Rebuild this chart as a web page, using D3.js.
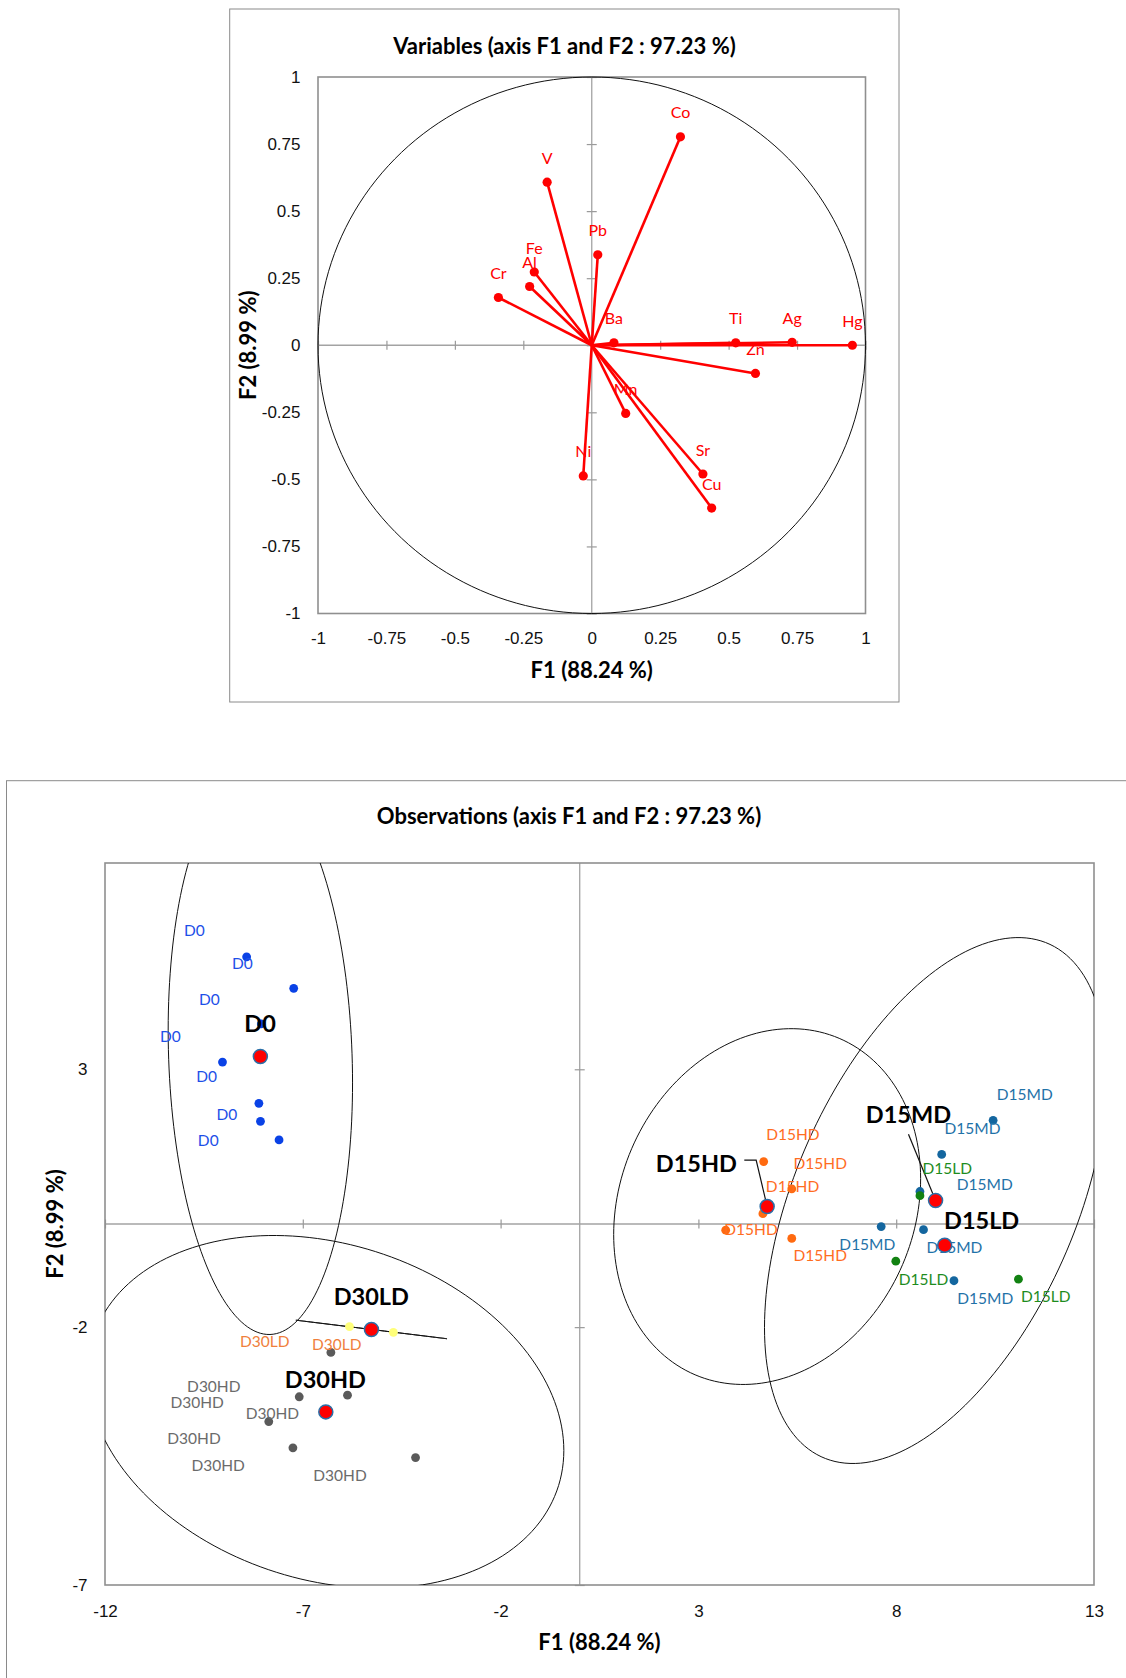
<!DOCTYPE html>
<html>
<head>
<meta charset="utf-8">
<script src="https://cdn.jsdelivr.net/npm/d3@7"></script>
<style>
  body { margin: 0; background: #fff; }
  svg { display: block; font-family: Lato, 'Open Sans', sans-serif; }
  .tick line { stroke: #9a9a9a; stroke-width: 1.2; }
  .tick text { fill: #111; font-size: 17px; }
</style>
</head>
<body>
<svg id="chart" width="1126" height="1678"></svg>
<script>
// ---- variables (correlation circle)
const varNames = ['Co', 'V', 'Pb', 'Fe', 'Al', 'Cr', 'Ba', 'Ti', 'Ag', 'Hg', 'Zn', 'Mn', 'Ni', 'Sr', 'Cu'];
const varF1 = [0.324, -0.163, 0.022, -0.210, -0.227, -0.341, 0.081, 0.526, 0.732, 0.952, 0.598, 0.124, -0.031, 0.406, 0.438];
const varF2 = [0.777, 0.608, 0.337, 0.273, 0.219, 0.178, 0.009, 0.009, 0.011, 0.000, -0.105, -0.254, -0.487, -0.480, -0.607];
const varTicks = [-1, -0.75, -0.5, -0.25, 0, 0.25, 0.5, 0.75, 1];

// ---- observations
const obsGroup = ['D0', 'D0', 'D0', 'D0', 'D0', 'D0', 'D0',
  'D15HD', 'D15HD', 'D15HD', 'D15HD', 'D15HD',
  'D15MD', 'D15MD', 'D15MD', 'D15MD', 'D15MD', 'D15MD',
  'D15LD', 'D15LD', 'D15LD',
  'D30HD', 'D30HD', 'D30HD', 'D30HD', 'D30HD', 'D30HD',
  'D30LD', 'D30LD'];
const obsF1 = [-8.42, -7.23, -9.03, -8.11, -8.07, -7.60, -8.05,
  4.65, 5.36, 4.63, 3.69, 5.36,
  10.45, 9.15, 8.60, 7.62, 8.69, 9.46,
  8.60, 7.99, 11.09,
  -6.29, -7.09, -5.87, -7.86, -7.25, -4.15,
  -5.82, -4.71];
const obsF2 = [5.18, 4.57, 3.14, 2.34, 1.99, 1.63, 3.88,
  1.21, 0.68, 0.20, -0.12, -0.28,
  2.01, 1.35, 0.63, -0.05, -0.11, -1.10,
  0.55, -0.72, -1.07,
  -2.49, -3.35, -3.32, -3.83, -4.34, -4.53,
  -1.99, -2.10];
// where each observation's text label sits (F1, F2)
const obsLabelF1 = [-9.74, -8.53, -9.36, -10.35, -9.43, -8.92, -9.39,
  5.39, 6.08, 5.38, 4.33, 6.08,
  11.25, 9.93, 10.24, 7.27, 9.47, 10.25,
  9.29, 8.69, 11.78,
  -9.25, -9.67, -7.77, -9.75, -9.14, -6.06,
  -7.96, -6.14];
const obsLabelF2 = [5.71, 5.07, 4.37, 3.65, 2.87, 2.13, 1.63,
  1.74, 1.19, 0.73, -0.10, -0.61,
  2.53, 1.87, 0.77, -0.39, -0.44, -1.44,
  1.08, -1.06, -1.39,
  -3.15, -3.46, -3.66, -4.15, -4.67, -4.86,
  -2.27, -2.33];

const groupNames = ['D0', 'D15HD', 'D15MD', 'D15LD', 'D30HD', 'D30LD'];
const groupPointColors = ['#0a42e6', '#ff6a10', '#14669f', '#128212', '#5a5a5a', '#ffff7a'];
const groupLabelColors = ['#1d4fe8', '#ff6d1f', '#1f72a8', '#1e8c1e', '#6b6b6b', '#f07f3c'];
// bold group name position (F1, F2)
const groupLabelF1 = [-8.08, 2.95, 8.31, 10.16, -6.43, -5.27];
const groupLabelF2 = [3.89, 1.19, 2.14, 0.08, -3.0, -1.39];
// confidence ellipses: variance / covariance terms
const ellipseGroups = ['D0', 'D15HD', 'D15MD', 'D30HD', 'D30LD'];
const ellipseSxx = [5.43, 15.05, 18.7, 36.2, 3.65];
const ellipseSyy = [29.05, 11.9, 26.0, 11.7, 0.0324];
const ellipseSxy = [-1.19, 2.1, 10.66, -4.5, -0.344];
// leader lines from bold names to their centroid
const leaderGroups = ['D15HD', 'D15MD'];
const leaderF1 = [[4.16, 4.46], [8.31]];
const leaderF2 = [[1.24, 1.24], [1.74]];

const obsXTicks = [-12, -7, -2, 3, 8, 13];
const obsYTicks = [-7, -2, 3];

const titleSize = 22;
const svg = d3.select('#chart');

function ellipsePath(cx, cy, sxx, syy, sxy, xScale, yScale) {
  const l11 = Math.sqrt(sxx);
  const l21 = sxy / l11;
  const l22 = Math.sqrt(Math.max(0, syy - l21 * l21));
  const pts = d3.range(0, 361, 2).map((deg) => {
    const t = deg * Math.PI / 180;
    return [cx + l11 * Math.cos(t), cy + l21 * Math.cos(t) + l22 * Math.sin(t)];
  });
  return d3.line()
    .x((d) => xScale(d[0]))
    .y((d) => yScale(d[1]))(pts);
}

function drawFrame(g, x, y, xTicks, yTicks, pad) {
  const [x0, x1] = x.range();
  const [y0, y1] = y.range();

  // zero lines with cross ticks
  g.append('line')
    .attr('x1', x0).attr('x2', x1)
    .attr('y1', y(0)).attr('y2', y(0))
    .attr('stroke', '#a3a3a3').attr('stroke-width', 1.3);
  g.append('line')
    .attr('x1', x(0)).attr('x2', x(0))
    .attr('y1', y0).attr('y2', y1)
    .attr('stroke', '#a3a3a3').attr('stroke-width', 1.3);

  [d3.axisTop(x), d3.axisBottom(x)].forEach((ax) => {
    g.append('g')
      .attr('transform', 'translate(0,' + y(0) + ')')
      .call(ax.tickValues(xTicks).tickSize(4.5).tickFormat(''))
      .call((s) => s.select('.domain').remove());
  });
  [d3.axisLeft(y), d3.axisRight(y)].forEach((ax) => {
    g.append('g')
      .attr('transform', 'translate(' + x(0) + ',0)')
      .call(ax.tickValues(yTicks).tickSize(5).tickFormat(''))
      .call((s) => s.select('.domain').remove());
  });

  // tick labels
  g.append('g')
    .attr('transform', 'translate(0,' + y0 + ')')
    .call(d3.axisBottom(x).tickValues(xTicks).tickSize(0).tickPadding(pad.x).tickFormat((d) => String(d)))
    .call((s) => s.select('.domain').remove());
  g.append('g')
    .attr('transform', 'translate(' + x0 + ',0)')
    .call(d3.axisLeft(y).tickValues(yTicks).tickSize(0).tickPadding(pad.y).tickFormat((d) => String(d)))
    .call((s) => s.select('.domain').remove());

  g.selectAll('.tick text').attr('font-family', null).attr('font-size', null);

  g.append('rect')
    .attr('x', x0).attr('y', y1)
    .attr('width', x1 - x0).attr('height', y0 - y1)
    .attr('fill', 'none')
    .attr('stroke', '#8f8f8f').attr('stroke-width', 1.6);
}

// ================= Variables chart =================
const xVar = d3.scaleLinear().domain([-1, 1]).range([318, 865.5]);
const yVar = d3.scaleLinear().domain([-1, 1]).range([613.5, 77]);

svg.append('rect')
  .attr('x', 229.7).attr('y', 9)
  .attr('width', 669.3).attr('height', 693)
  .attr('fill', 'none').attr('stroke', '#8a8a8a').attr('stroke-width', 1);

svg.append('text')
  .attr('x', 564.5).attr('y', 45.3)
  .attr('text-anchor', 'middle').attr('dominant-baseline', 'central')
  .attr('font-weight', 'bold').attr('font-size', titleSize)
  .text('Variables (axis F1 and F2 : 97.23 %)');

const varFrame = svg.append('g').attr('class', 'var-frame');
drawFrame(varFrame, xVar, yVar, varTicks, varTicks, { x: 18.5, y: 17.5 });

svg.append('path')
  .attr('d', ellipsePath(0, 0, 1, 1, 0, xVar, yVar))
  .attr('fill', 'none').attr('stroke', '#111').attr('stroke-width', 1);

const varData = varNames.map((n, i) => ({ name: n, f1: varF1[i], f2: varF2[i] }));

svg.append('g')
  .selectAll('text')
  .data(varData)
  .enter().append('text')
    .attr('x', (d) => xVar(d.f1))
    .attr('y', (d) => yVar(d.f2) - 25)
    .attr('text-anchor', 'middle').attr('dominant-baseline', 'central')
    .attr('font-size', 16).attr('fill', '#ff0000')
    .text((d) => d.name);

svg.append('g')
  .selectAll('line')
  .data(varData)
  .enter().append('line')
    .attr('x1', xVar(0)).attr('y1', yVar(0))
    .attr('x2', (d) => xVar(d.f1)).attr('y2', (d) => yVar(d.f2))
    .attr('stroke', '#ff0000').attr('stroke-width', 2.6);

svg.append('g')
  .selectAll('circle')
  .data(varData)
  .enter().append('circle')
    .attr('cx', (d) => xVar(d.f1)).attr('cy', (d) => yVar(d.f2))
    .attr('r', 4.6).attr('fill', '#ff0000');

svg.append('text')
  .attr('x', (xVar(-1) + xVar(1)) / 2).attr('y', 669)
  .attr('text-anchor', 'middle').attr('dominant-baseline', 'central')
  .attr('font-weight', 'bold').attr('font-size', titleSize)
  .text('F1 (88.24 %)');

svg.append('text')
  .attr('transform', 'translate(247,' + (yVar(-1) + yVar(1)) / 2 + ') rotate(-90)')
  .attr('text-anchor', 'middle').attr('dominant-baseline', 'central')
  .attr('font-weight', 'bold').attr('font-size', titleSize)
  .text('F2 (8.99 %)');

// ================= Observations chart =================
const xObs = d3.scaleLinear().domain([-12, 13]).range([105, 1094]);
const yObs = d3.scaleLinear().domain([-7, 7]).range([1585, 863]);

svg.append('rect')
  .attr('x', 6.5).attr('y', 780.7)
  .attr('width', 1300).attr('height', 1000)
  .attr('fill', 'none').attr('stroke', '#8a8a8a').attr('stroke-width', 1);

svg.append('text')
  .attr('x', 569).attr('y', 815.5)
  .attr('text-anchor', 'middle').attr('dominant-baseline', 'central')
  .attr('font-weight', 'bold').attr('font-size', titleSize)
  .text('Observations (axis F1 and F2 : 97.23 %)');

svg.append('clipPath')
    .attr('id', 'obs-clip')
  .append('rect')
    .attr('x', 105).attr('y', 863)
    .attr('width', 1094 - 105).attr('height', 1585 - 863);

const obsFrame = svg.append('g').attr('class', 'obs-frame');
drawFrame(obsFrame, xObs, yObs, obsXTicks, obsYTicks, { x: 20, y: 17.5 });

const obsData = obsGroup.map((g, i) => ({
  group: g, f1: obsF1[i], f2: obsF2[i], lf1: obsLabelF1[i], lf2: obsLabelF2[i]
}));

const centroids = groupNames.map((g, i) => {
  const pts = obsData.filter((d) => d.group === g);
  return {
    group: g,
    f1: d3.mean(pts, (d) => d.f1),
    f2: d3.mean(pts, (d) => d.f2),
    lf1: groupLabelF1[i],
    lf2: groupLabelF2[i]
  };
});
const centroidOf = (g) => centroids.find((c) => c.group === g);

svg.append('g')
    .attr('clip-path', 'url(#obs-clip)')
  .selectAll('path')
  .data(ellipseGroups)
  .enter().append('path')
    .attr('d', (g, i) => {
      const c = centroidOf(g);
      return ellipsePath(c.f1, c.f2, ellipseSxx[i], ellipseSyy[i], ellipseSxy[i], xObs, yObs);
    })
    .attr('fill', 'none').attr('stroke', '#111').attr('stroke-width', 1);

svg.append('g')
  .selectAll('path')
  .data(leaderGroups)
  .enter().append('path')
    .attr('d', (g, i) => {
      const c = centroidOf(g);
      const pts = leaderF1[i].map((v, j) => [v, leaderF2[i][j]]).concat([[c.f1, c.f2]]);
      return d3.line().x((d) => xObs(d[0])).y((d) => yObs(d[1]))(pts);
    })
    .attr('fill', 'none').attr('stroke', '#111').attr('stroke-width', 1.2);

const colorOf = d3.scaleOrdinal().domain(groupNames).range(groupPointColors);
const labelColorOf = d3.scaleOrdinal().domain(groupNames).range(groupLabelColors);

svg.append('g')
  .selectAll('circle')
  .data(obsData)
  .enter().append('circle')
    .attr('cx', (d) => xObs(d.f1)).attr('cy', (d) => yObs(d.f2))
    .attr('r', 4.4)
    .attr('fill', (d) => colorOf(d.group));

svg.append('g')
  .selectAll('text')
  .data(obsData)
  .enter().append('text')
    .attr('x', (d) => xObs(d.lf1)).attr('y', (d) => yObs(d.lf2))
    .attr('text-anchor', 'middle').attr('dominant-baseline', 'central')
    .attr('font-size', 15.5)
    .attr('fill', (d) => labelColorOf(d.group))
    .text((d) => d.group);

svg.append('g')
  .selectAll('text')
  .data(centroids)
  .enter().append('text')
    .attr('x', (d) => xObs(d.lf1)).attr('y', (d) => yObs(d.lf2))
    .attr('text-anchor', 'middle').attr('dominant-baseline', 'central')
    .attr('font-size', 23.5).attr('font-weight', 'bold').attr('fill', '#000')
    .text((d) => d.group);

svg.append('g')
  .selectAll('circle')
  .data(centroids)
  .enter().append('circle')
    .attr('cx', (d) => xObs(d.f1)).attr('cy', (d) => yObs(d.f2))
    .attr('r', 7)
    .attr('fill', '#ff0000')
    .attr('stroke', '#2a6fa8').attr('stroke-width', 1.5);

svg.append('text')
  .attr('x', (xObs(-12) + xObs(13)) / 2).attr('y', 1641)
  .attr('text-anchor', 'middle').attr('dominant-baseline', 'central')
  .attr('font-weight', 'bold').attr('font-size', titleSize)
  .text('F1 (88.24 %)');

svg.append('text')
  .attr('transform', 'translate(54,' + yObs(0) + ') rotate(-90)')
  .attr('text-anchor', 'middle').attr('dominant-baseline', 'central')
  .attr('font-weight', 'bold').attr('font-size', titleSize)
  .text('F2 (8.99 %)');
</script>
</body>
</html>
